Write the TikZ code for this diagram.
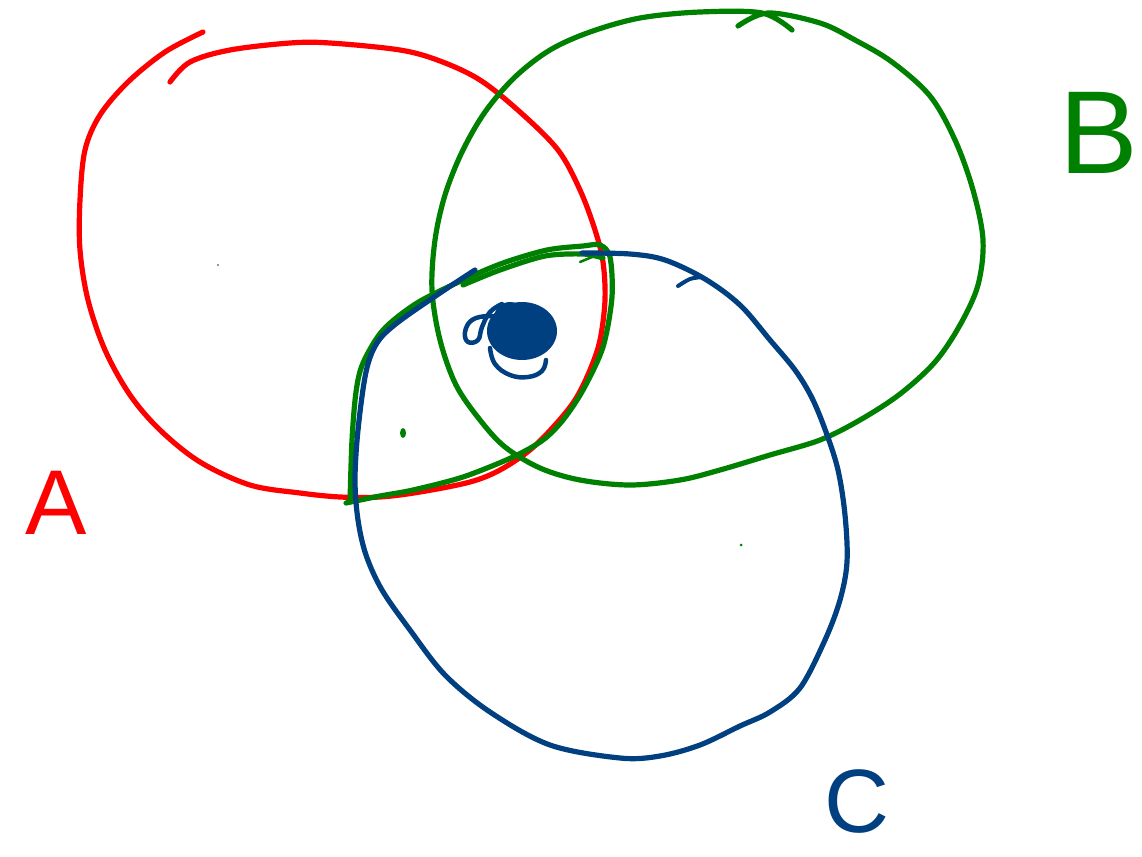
\documentclass[tikz,border=0pt]{standalone}
\usepackage{fontspec}
\setmainfont{Liberation Sans}
\definecolor{penred}{RGB}{255,0,0}
\definecolor{pengreen}{RGB}{0,128,0}
\definecolor{penblue}{RGB}{0,64,128}
\begin{document}
\begin{tikzpicture}[x=1pt,y=-1pt,
  pen/.style={line width=5.2pt,line cap=round,line join=round},
  redpen/.style={pen,draw=penred},
  greenpen/.style={pen,draw=pengreen},
  bluepen/.style={pen,draw=penblue},
  letter/.style={inner sep=0pt,font=\fontsize{#1}{#1}\selectfont}]
\useasboundingbox[fill=white] (0,0) rectangle (1142,856);

% Circle A (red)
\draw[redpen] plot[smooth,tension=0.55] coordinates {
 (170,82) (190,62) (230,50) (290,43) (330,43) (400,50) (440,61) (480,80)
 (520,112) (558,150) (580,190) (595,230) (603,262) (605,300) (600,340)
 (590,370) (575,400) (555,425) (530,450) (500,470) (470,482) (420,492)
 (380,497) (340,497) (300,493) (250,485) (200,462) (160,430) (130,395)
 (105,350) (88,300) (80,250) (80,200) (85,150) (100,115) (128,82)
 (165,52) (203,32)};

% Circle B (green)
\draw[greenpen] plot[smooth,tension=0.55] coordinates {
 (738,26) (768,13) (820,23) (855,40) (892,62) (930,96) (955,140) (973,190)
 (983,240) (978,285) (960,325) (935,362) (900,394) (860,420) (820,440)
 (770,455) (720,470) (680,480) (630,485) (580,480) (540,468) (505,447)
 (480,420) (456,385) (440,340) (432,290) (435,240) (445,195) (462,152)
 (485,112) (515,77) (550,50) (590,32) (640,18) (700,12) (762,13) (792,30)};

% Lens (green)
\draw[greenpen] plot[smooth,tension=0.5] coordinates {
 (350,502) (352,440) (356,392) (363,363) (383,330) (417,303) (463,280)
 (503,263) (547,250) (583,246) (600,245) (610,257) (612,297) (603,347)
 (583,390) (563,420) (543,440) (513,457) (463,477) (413,490) (380,496)
 (346,503)};
\draw[greenpen] plot[smooth,tension=0.5] coordinates {
 (463,285) (500,270) (545,256) (583,254) (603,258)};
\draw[greenpen,line width=2.5pt] plot[smooth] coordinates {(580,262) (597,255)};

% Circle C (blue)
\draw[bluepen] plot[smooth,tension=0.55] coordinates {
 (582,253) (630,254) (665,260) (705,279) (740,305) (770,340) (795,370)
 (812,398) (826,432) (838,470) (845,515) (847,562) (840,600) (825,640)
 (800,688) (770,712) (740,726) (700,745) (660,756) (620,758) (550,745)
 (490,712) (445,675) (410,630) (382,590) (366,555) (358,520) (355,480)
 (358,430) (366,372) (377,343) (397,323) (440,293) (475,270)};
\draw[bluepen,line width=4pt] plot[smooth] coordinates {(678,286) (690,279) (702,277)};

% Blob
\fill[penblue] (522,331) ellipse[x radius=35,y radius=29];
\fill[penblue] (510,318) circle[radius=16];
\draw[bluepen,line width=4.5pt] plot[smooth,tension=0.7] coordinates {
 (500,318) (488,316) (472,320) (465,332) (468,342) (478,340) (482,327)
 (490,312) (502,304)};
\draw[bluepen,line width=4.5pt] plot[smooth,tension=0.7] coordinates {
 (490,348) (495,364) (510,375) (528,377) (542,371) (546,360)};

% Dots
\fill[pengreen] (403,433) ellipse[x radius=3,y radius=5];
\fill[pengreen] (741,545) circle[radius=1.5];
\fill[pengreen!60!black] (218,265) circle[radius=0.8];

% Labels
\node[letter=92,text=penred] (A) at (56,503) {A};
\node[letter=118,text=pengreen] (B) at (1099,133) {B};
\node[letter=90,text=penblue] (C) at (857,802) {C};
\end{tikzpicture}
\end{document}
